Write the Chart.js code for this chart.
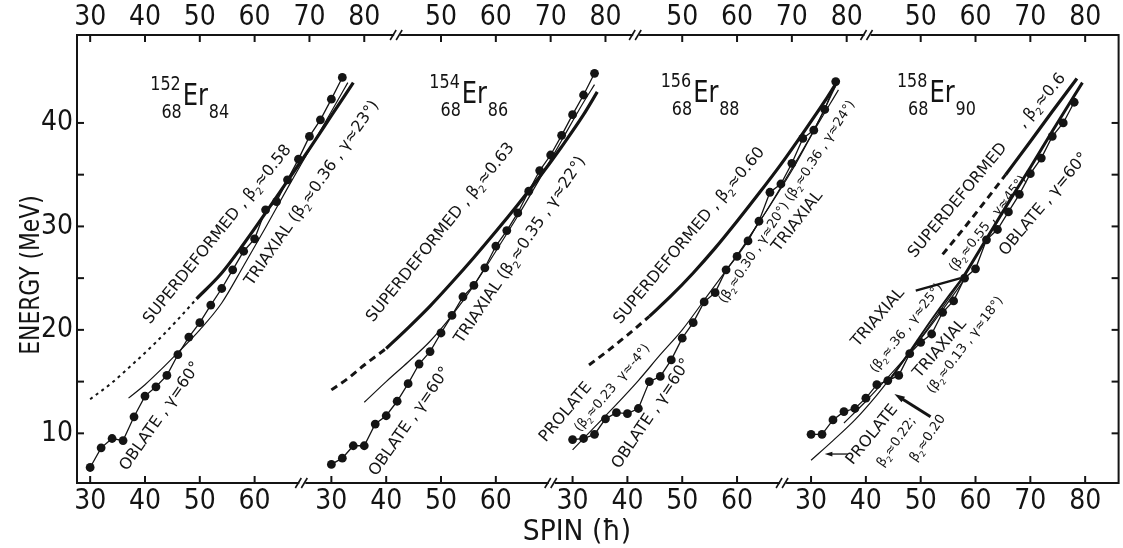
<!DOCTYPE html>
<html>
<head>
<meta charset="utf-8">
<script src="https://cdn.jsdelivr.net/npm/chart.js@4.4.1/dist/chart.umd.min.js"></script>
<style>
  html, body { margin: 0; padding: 0; background: #fff; }
  #wrap { width: 1123px; height: 548px; position: relative; }
</style>
</head>
<body>
<div id="wrap"><canvas id="yrast"></canvas></div>
<script>
'use strict';

/* ---- measured yrast levels, E (MeV) vs spin ---- */
const SPIN_30_76 = [30,32,34,36,38,40,42,44,46,48,50,52,54,56,58,60,62,64,66,68,70,72,74,76];
const SPIN_30_78 = [30,32,34,36,38,40,42,44,46,48,50,52,54,56,58,60,62,64,66,68,70,72,74,76,78];

const er152E = [6.7,8.6,9.5,9.3,11.6,13.6,14.5,15.6,17.6,19.3,20.7,22.4,24.0,25.8,27.6,28.8,31.6,32.4,34.5,36.5,38.7,40.3,42.3,44.4];
const er154E = [7.0,7.6,8.8,8.8,10.9,11.7,13.1,14.8,16.7,17.9,19.7,21.4,23.2,24.3,26.0,28.1,29.6,31.3,33.4,35.4,36.9,38.8,40.8,42.7,44.8];
const er156E = [9.4,9.5,9.9,11.4,12.0,11.9,12.4,15.0,15.5,17.1,19.2,20.7,22.7,23.6,25.8,27.1,28.6,30.5,33.3,34.1,36.1,38.5,39.3,41.3,44.0];
const er158E = [9.9,9.9,11.3,12.1,12.4,13.4,14.7,15.1,15.6,17.7,18.8,19.6,21.7,22.8,25.0,25.9,28.7,29.7,31.4,33.1,35.1,36.6,38.7,40.0,42.0];

/* ---- calculated bands ---- */
// 152Er
const p1ThinS  = [37,40,43,46,50,54,58,62,66,70,74,77];
const p1ThinE  = [13.4,14.7,16.2,17.8,20.0,22.6,26.2,29.9,33.7,37.4,41.1,43.9];
const p1SdS    = [49.4,54,58,62,66,70,74,78];
const p1SdE    = [23.0,25.5,28.3,31.3,34.4,37.5,40.7,43.9];
const p1SdLowS = [30,34,38,42,46,49.4];
const p1SdLowE = [13.3,14.9,16.8,18.8,21.0,23.0];
// 154Er
const p2ThinS  = [36,40,44,48,52,56,60,64,68,72,76,78];
const p2ThinE  = [13.0,15.0,16.9,18.9,21.4,24.3,27.6,31.0,34.6,38.3,42.0,43.7];
const p2SdS    = [40,44,48,52,56,60,64,68,72,76,78.5];
const p2SdE    = [18.2,20.2,22.3,24.6,27.0,29.5,32.1,34.8,37.7,40.8,43.0];
const p2SdLowS = [30,33,36,40];
const p2SdLowE = [14.2,15.3,16.6,18.2];
// 156Er
const p3ThinS  = [30,34,38,42,46,50,55,60,65,70,74,78.4];
const p3ThinE  = [8.4,10.6,12.8,15.1,17.6,20.0,23.6,27.2,31.2,35.6,39.3,44.0];
const p3TriS   = [62,66,70,74,78.5];
const p3TriE   = [28.8,32.0,35.4,39.2,43.2];
const p3SdS    = [44,48,52,56,60,64,68,72,76,78.5];
const p3SdE    = [21.3,23.3,25.5,27.9,30.5,33.2,36.0,39.0,42.1,44.2];
const p3SdLowS = [33,36,40,44];
const p3SdLowE = [16.6,17.8,19.5,21.3];
// 158Er
const p4ProlS  = [30,34,38,42,46,50,54,58];
const p4ProlE  = [7.4,9.3,11.3,13.7,16.4,19.2,22.2,25.2];
const p4Tri13S = [36,40,44,48,52,56,58];
const p4Tri13E = [11.0,13.1,15.4,17.8,20.5,23.4,24.9];
const p4Tri36S = [44,48,52,55,58];
const p4Tri36E = [14.9,17.9,21.0,23.2,25.3];
const p4ObS    = [58,62,66,70,74,79.5];
const p4ObE    = [25.3,28.8,32.3,35.7,39.2,43.9];
const p4SdLowS = [54,58,62,65.5];
const p4SdLowE = [27.3,29.9,32.6,35.0];
const p4SdS    = [65.5,70,74,78.5];
const p4SdE    = [35.0,38.2,41.1,44.3];
const p4PointerS = [49.1,57.3];
const p4PointerE = [23.8,25.0];

/* ---- axes ---- */
const PANEL_SHIFT  = [0, 44, 88, 131.5];          // panels share one x scale
const BOTTOM_TICKS = [[30,40,50,60],[30,40,50,60],[30,40,50,60],[30,40,50,60,70,80]];
const TOP_TICKS    = [[30,40,50,60,70,80],[50,60,70,80],[50,60,70,80],[50,60,70,80]];
const ENERGY_TICKS = [10,20,30,40];
const ENERGY_MARKS = [10,15,20,25,30,35,40];
const BOTTOM_BREAKS = [68.7, 114.2, 156.4];
const TOP_BREAKS    = [86.0, 129.6, 171.8];

const INK  = '#141414';
const FONT = "'DejaVu Sans', sans-serif";
const TICK_FONT = "'Liberation Sans Narrow', 'DejaVu Sans Condensed', 'DejaVu Sans', sans-serif";

/* ---- annotations: panel, spin, energy, angle, size, text ---- */
const NOTES = [
  [0, 40.9, 20.5, -51, 16, 'SUPERDEFORMED , β₂≈0.58'],
  [0, 59.5, 24.2, -55, 16, 'TRIAXIAL (β₂≈0.36 , γ≈23°)'],
  [0, 36.7, 6.3, -55, 16, 'OBLATE , γ=60°'],
  [1, 37.6, 20.7, -51, 16, 'SUPERDEFORMED , β₂≈0.63'],
  [1, 53.8, 18.6, -56, 16, 'TRIAXIAL (β₂≈0.35 , γ≈22°)'],
  [1, 38.2, 5.8, -55, 16, 'OBLATE , γ=60°'],
  [2, 38.7, 20.5, -50, 16, 'SUPERDEFORMED , β₂≈0.60'],
  [2, 25.1, 9.1, -50, 16, 'PROLATE'],
  [2, 31.3, 10.1, -50, 13, '(β₂≈0.23  γ≈-4°)'],
  [2, 38.5, 6.5, -56, 16, 'OBLATE , γ=60°'],
  [2, 57.8, 22.5, -57, 13, '(β₂≈0.30 , γ≈20°) (β₂≈0.36 , γ≈24°)'],
  [2, 67.6, 27.5, -52, 16, 'TRIAXIAL'],
  [3, 48.9, 26.9, -50, 16, 'SUPERDEFORMED     , β₂≈0.6'],
  [3, 56.2, 25.6, -52, 13, '(β₂≈0.55 , γ≈45°)'],
  [3, 65.5, 27.1, -50, 16, 'OBLATE , γ=60°'],
  [3, 38.5, 18.3, -49, 16, 'TRIAXIAL'],
  [3, 41.8, 15.8, -52, 13, '(β₂≈.36 , γ≈25°)'],
  [3, 49.8, 15.3, -49, 16, 'TRIAXIAL'],
  [3, 52.2, 13.8, -53, 13, '(β₂≈0.13 , γ≈18°)'],
  [3, 37.6, 6.9, -51, 16, 'PROLATE'],
  [3, 43.1, 6.7, -55, 13, 'β₂≈0.22;'],
  [3, 49.1, 7.2, -56, 13, 'β₂≈0.20']
];
// panel, spin, energy of the 'Er' symbol, A, Z, N
const NUCLIDES = [
  [0, 46.9, 41.75, '152', '68', '84'],
  [1, 53.8, 41.9, '154', '68', '86'],
  [2, 52.0, 42.0, '156', '68', '88'],
  [3, 51.6, 42.0, '158', '68', '90']
];
// panel, from (spin, E), to (spin, E), width
const ARROWS = [
  [3, 36.7, 8.0, 32.5, 8.0, 1.3],
  [3, 51.8, 11.6, 45.2, 13.8, 3]
];

/* ---- helpers ---- */
const pts = (panel, spins, energies) =>
  spins.map((s, i) => ({ x: s + PANEL_SHIFT[panel], y: energies[i] }));

const flatTicks = list => list.flatMap((spins, p) =>
  spins.map(s => ({ value: s + PANEL_SHIFT[p], label: String(s) })));

const bottomTicks = flatTicks(BOTTOM_TICKS);
const topTicks    = flatTicks(TOP_TICKS);

const measured = (panel, spins, e) => ({
  data: pts(panel, spins, e),
  showLine: true,
  borderColor: INK,
  borderWidth: 1.3,
  pointRadius: 4.4,
  pointBackgroundColor: INK,
  pointBorderWidth: 0
});

const curve = (panel, spins, e, width, dash) => ({
  data: pts(panel, spins, e),
  showLine: true,
  borderColor: INK,
  borderWidth: width,
  borderDash: dash || [],
  pointRadius: 0,
  cubicInterpolationMode: 'monotone',
  fill: false
});

const datasets = [
  measured(0, SPIN_30_76, er152E),
  curve(0, p1ThinS, p1ThinE, 1.2),
  curve(0, p1SdS, p1SdE, 3.2),
  curve(0, p1SdLowS, p1SdLowE, 2, [3, 4]),

  measured(1, SPIN_30_78, er154E),
  curve(1, p2ThinS, p2ThinE, 1.2),
  curve(1, p2SdS, p2SdE, 3.2),
  curve(1, p2SdLowS, p2SdLowE, 3, [7, 5]),

  measured(2, SPIN_30_78, er156E),
  curve(2, p3ThinS, p3ThinE, 1.2),
  curve(2, p3TriS, p3TriE, 1.2),
  curve(2, p3SdS, p3SdE, 3.2),
  curve(2, p3SdLowS, p3SdLowE, 3, [7, 5]),

  measured(3, SPIN_30_78, er158E),
  curve(3, p4ProlS, p4ProlE, 1.2),
  curve(3, p4Tri13S, p4Tri13E, 1.2),
  curve(3, p4Tri36S, p4Tri36E, 2),
  curve(3, p4ObS, p4ObE, 3),
  curve(3, p4SdLowS, p4SdLowE, 3, [7, 5]),
  curve(3, p4SdS, p4SdE, 3.2),
  curve(3, p4PointerS, p4PointerE, 2.4)
];

function drawText(ctx, text, x, y, size, angle, squeeze, align, font) {
  ctx.save();
  ctx.translate(x, y);
  ctx.rotate(angle * Math.PI / 180);
  ctx.scale(squeeze, 1);
  ctx.font = size + 'px ' + (font || FONT);
  ctx.textAlign = align || 'left';
  ctx.textBaseline = 'alphabetic';
  ctx.fillText(text, 0, 0);
  ctx.restore();
}

// rotated label; '₂' is set as a lowered small 2
function drawNote(ctx, text, x, y, size, angle) {
  ctx.save();
  ctx.translate(x, y);
  ctx.rotate(angle * Math.PI / 180);
  ctx.textBaseline = 'alphabetic';
  ctx.textAlign = 'left';
  let cx = 0;
  text.split(/(₂)/).forEach(part => {
    if (!part) return;
    if (part === '₂') {
      ctx.font = Math.round(size * 0.62) + 'px ' + FONT;
      ctx.fillText('2', cx, size * 0.28);
      cx += ctx.measureText('2').width;
    } else {
      ctx.font = size + 'px ' + FONT;
      ctx.fillText(part, cx, 0);
      cx += ctx.measureText(part).width;
    }
  });
  ctx.restore();
}

/* ---- frame, ticks, breaks and lettering ---- */
const framePlugin = {
  id: 'frame',
  afterDraw(chart) {
    const { ctx, chartArea: a } = chart;
    const xs = chart.scales.x, ys = chart.scales.y;
    const px = (p, s) => xs.getPixelForValue(s + PANEL_SHIFT[p]);
    const py = e => ys.getPixelForValue(e);

    ctx.save();
    ctx.strokeStyle = INK;
    ctx.fillStyle = INK;
    ctx.lineWidth = 2;

    const seg = (x1, y1, x2, y2) => {
      ctx.beginPath(); ctx.moveTo(x1, y1); ctx.lineTo(x2, y2); ctx.stroke();
    };

    // verticals
    seg(a.left, a.top - 1, a.left, a.bottom + 1);
    seg(a.right, a.top - 1, a.right, a.bottom + 1);

    // horizontals with // breaks
    const broken = (yy, breaks) => {
      let start = a.left;
      breaks.forEach(b => {
        const bx = xs.getPixelForValue(b);
        seg(start, yy, bx - 3, yy);
        ctx.lineWidth = 1.6;
        seg(bx - 7, yy + 5, bx - 1, yy - 5);
        seg(bx - 1, yy + 5, bx + 5, yy - 5);
        ctx.lineWidth = 2;
        start = bx + 3;
      });
      seg(start, yy, a.right, yy);
    };
    broken(a.top, TOP_BREAKS);
    broken(a.bottom, BOTTOM_BREAKS);

    // inward tick marks
    const TL = 7;
    bottomTicks.forEach(t => {
      const x = xs.getPixelForValue(t.value);
      seg(x, a.bottom, x, a.bottom - TL);
    });
    topTicks.forEach(t => {
      const x = xs.getPixelForValue(t.value);
      seg(x, a.top, x, a.top + TL);
    });
    ENERGY_MARKS.forEach(e => {
      const y = py(e);
      seg(a.left, y, a.left + TL, y);
      seg(a.right, y, a.right - TL, y);
    });

    // axis titles
    drawText(ctx, 'SPIN (ħ)', 577, 540, 28, 0, 0.95, 'center');
    drawText(ctx, 'ENERGY (MeV)', 39, 275, 26, -90, 0.84, 'center');

    // nuclide symbols
    NUCLIDES.forEach(([p, s, e, A, Z, N]) => {
      const x = px(p, s), y = py(e);
      drawText(ctx, 'Er', x, y, 31, 0, 0.78);
      drawText(ctx, A, x - 2, y - 15, 20, 0, 0.8, 'right');
      drawText(ctx, Z, x - 1, y + 13, 20, 0, 0.8, 'right');
      drawText(ctx, N, x + 26, y + 13, 20, 0, 0.8, 'left');
    });

    // rotated band labels
    NOTES.forEach(([p, s, e, ang, size, text]) => {
      drawNote(ctx, text, px(p, s), py(e), size, ang);
    });

    // arrows
    ARROWS.forEach(([p, s1, e1, s2, e2, w]) => {
      const x1 = px(p, s1), y1 = py(e1), x2 = px(p, s2), y2 = py(e2);
      const ang = Math.atan2(y2 - y1, x2 - x1);
      const head = w > 2 ? 11 : 8;
      ctx.lineWidth = w;
      seg(x1, y1, x2 - Math.cos(ang) * head * 0.6, y2 - Math.sin(ang) * head * 0.6);
      ctx.beginPath();
      ctx.moveTo(x2, y2);
      ctx.lineTo(x2 - Math.cos(ang - 0.3) * head, y2 - Math.sin(ang - 0.3) * head);
      ctx.lineTo(x2 - Math.cos(ang + 0.3) * head, y2 - Math.sin(ang + 0.3) * head);
      ctx.closePath();
      ctx.fill();
    });

    ctx.restore();
  }
};

const tickFont = { family: TICK_FONT, size: 28 };

new Chart(document.getElementById('yrast'), {
  type: 'scatter',
  data: { datasets },
  options: {
    responsive: true,
    maintainAspectRatio: false,
    animation: false,
    layout: { padding: { right: 2 } },
    plugins: { legend: { display: false }, tooltip: { enabled: false } },
    scales: {
      x: {
        type: 'linear', position: 'bottom', min: 27.6, max: 217.6,
        grid: { display: false, drawTicks: false }, border: { display: false },
        afterBuildTicks: axis => { axis.ticks = bottomTicks.map(t => ({ value: t.value })); },
        afterFit: axis => { axis.height = 65; },
        ticks: {
          autoSkip: false, maxRotation: 0, padding: 2, color: INK, font: tickFont,
          callback: (v, i) => bottomTicks[i] ? bottomTicks[i].label : ''
        }
      },
      x2: {
        type: 'linear', position: 'top', axis: 'x', min: 27.6, max: 217.6,
        grid: { display: false, drawTicks: false }, border: { display: false },
        afterBuildTicks: axis => { axis.ticks = topTicks.map(t => ({ value: t.value })); },
        afterFit: axis => { axis.height = 35; },
        ticks: {
          autoSkip: false, maxRotation: 0, padding: 0, color: INK, font: tickFont,
          callback: (v, i) => topTicks[i] ? topTicks[i].label : ''
        }
      },
      y: {
        type: 'linear', position: 'left', min: 5.2, max: 48.5,
        grid: { display: false, drawTicks: false }, border: { display: false },
        afterBuildTicks: axis => { axis.ticks = ENERGY_TICKS.map(v => ({ value: v })); },
        afterFit: axis => { axis.width = 77; },
        ticks: { autoSkip: false, padding: 4, color: INK, font: tickFont }
      }
    }
  },
  plugins: [framePlugin]
});
</script>
</body>
</html>
